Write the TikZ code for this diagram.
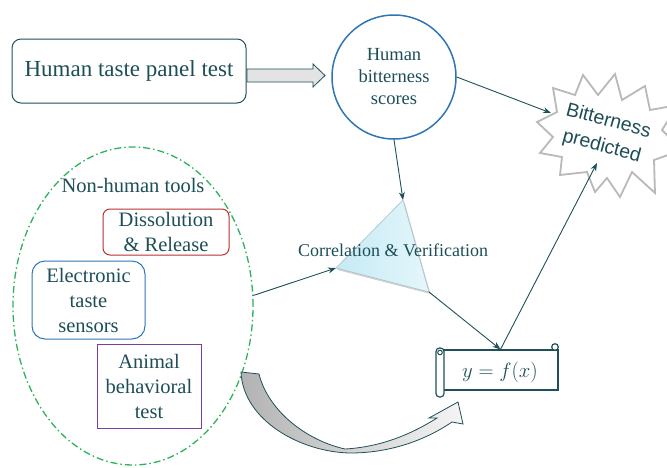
\documentclass[tikz,border=0pt]{standalone}
\usepackage{fontspec}
\setmainfont{Liberation Serif}
\newfontfamily\arialf{Liberation Sans}
\usetikzlibrary{arrows.meta,shapes.geometric,shadings}
\definecolor{txc}{HTML}{1D4E58}
\definecolor{lnc}{HTML}{1F5058}
\definecolor{grn}{HTML}{2DB35A}
\definecolor{blu}{HTML}{2E75B6}
\definecolor{redb}{HTML}{B8312F}
\definecolor{purp}{HTML}{7A3FA6}
\definecolor{tri1}{HTML}{C6EAF5}
\definecolor{tri2}{HTML}{E4F6FB}
\begin{document}
\begin{tikzpicture}[x=1pt,y=-1pt,
  conn/.style={draw=lnc, line width=0.9pt, -{Stealth[length=8pt,width=6pt]}},
  txt/.style={text=txc, align=center, inner sep=0pt},
  boxtxt/.style={txt, font=\fontsize{20.5}{25}\selectfont, line width=1pt},
]
\useasboundingbox (0,0) rectangle (667,467);

% non-human tools ellipse
\node[ellipse, draw=grn, line width=1.3pt, dash pattern=on 7pt off 3pt on 1.5pt off 3pt,
      minimum width=240pt, minimum height=318pt, inner sep=0pt] (ell) at (133,306) {};
\node[txt, font=\fontsize{20.5}{25}\selectfont] (nht) at (133,185) {Non-human tools};

% tools
\node[boxtxt, draw=redb, rounded corners=7pt, minimum width=126pt, minimum height=46pt] (diss) at (166,232) {Dissolution\\\& Release};
\node[boxtxt, draw=blu, rounded corners=13pt, minimum width=113pt, minimum height=78pt] (elec) at (88.5,300) {Electronic\\taste\\sensors};
\node[boxtxt, draw=purp, minimum width=104pt, minimum height=84pt] (anim) at (149,386) {Animal\\behavioral\\test};

% human taste panel
\node[txt, draw=lnc, line width=1pt, rounded corners=9pt, minimum width=234pt, minimum height=64pt,
      font=\fontsize{23}{27}\selectfont] (panel) at (129,71) {Human taste panel test};

% circle
\node[circle, draw=blu, line width=1.5pt, minimum size=124pt, txt,
      font=\fontsize{18.5}{22}\selectfont] (hbs) at (394,77) {Human\\bitterness\\scores};

% block arrow panel -> circle
\draw[draw=lnc, line width=0.8pt, fill=gray!22]
  (247,69) -- (313,69) -- (313,64) -- (325,75.5) -- (313,87) -- (313,82) -- (247,82) -- cycle;

% starburst
\draw[draw=gray!55, line width=1.8pt, fill=white]
  (537,122) -- (557,112) -- (553,88) -- (575,95) -- (583,75) -- (598,95) -- (615,74) -- (622,100)
  -- (645,86) -- (650,110) -- (678,105) -- (662,130) -- (682,150) -- (654,160) -- (655,193)
  -- (632,172) -- (620,197) -- (607,178) -- (595,192) -- (587,172) -- (560,175) -- (562,157)
  -- (540,153) -- (553,137) -- cycle;
\node[txt, rotate=-15, font=\arialf\fontsize{19.5}{26}\selectfont] (burst) at (605,134) {Bitterness\\predicted};
\coordinate (bL) at (551,113);
\coordinate (bB) at (597,163);

% triangle
\coordinate (tT) at (403,200);
\coordinate (tL) at (336,268);
\coordinate (tR) at (429,292);
\fill[gray!35] ([shift={(1.5,2)}]tT) -- ([shift={(1.5,2)}]tL) -- ([shift={(1.5,2)}]tR) -- cycle;
\shade[left color=tri1, right color=tri2, draw=gray!40!tri1, line width=0.6pt] (tT) -- (tL) -- (tR) -- cycle;
\node[txt, font=\fontsize{18}{22}\selectfont] (corr) at (393,250) {Correlation \& Verification};

% scroll
\node[draw=lnc, line width=1.2pt, fill=white, minimum width=115pt, minimum height=40pt, inner sep=0pt] (scroll) at (500.5,370) {};
\draw[draw=lnc, line width=1.2pt, fill=white] (555,347) circle (3.3pt);
\draw[draw=lnc, line width=1.2pt, fill=white, rounded corners=3.5pt] (436,348) rectangle (444,397);
\draw[draw=lnc, line width=1pt] (440,352.5) circle (2.3pt);
\node[txt, font=\fontsize{21}{25}\selectfont] (eq) at (500,372) {$y = f(x)$};

% curved block arrow
\shade[left color=gray!60, right color=gray!8, draw=lnc, line width=0.8pt]
  (241,372) .. controls (243,420) and (300,452) .. (350,453)
  .. controls (395,453) and (430,437) .. (452,422)
  -- (463,424) -- (458,402) -- (429,418) -- (437,418)
  .. controls (410,435) and (380,447) .. (345,449)
  .. controls (305,440) and (268,410) .. (259,374) -- cycle;

% connectors
\draw[conn] (hbs.east) -- (bL);
\draw[conn] (hbs.south) -- (tT);
\draw[conn] (ell.5) -- (tL);
\draw[conn] (tR) -- (scroll.north);
\draw[conn] (scroll.north) -- (bB);
\end{tikzpicture}
\end{document}
